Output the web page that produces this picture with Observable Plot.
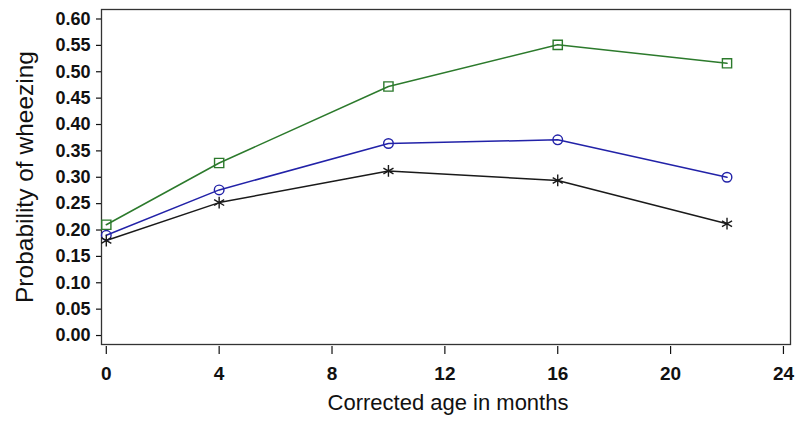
<!DOCTYPE html>
<html>
<head>
<meta charset="utf-8">
<script src="https://cdn.jsdelivr.net/npm/d3@7"></script>
<script src="https://cdn.jsdelivr.net/npm/@observablehq/plot@0.6"></script>
<style>
  html, body { margin: 0; padding: 0; background: #fff; }
</style>
</head>
<body>
<div id="chart"></div>
<script>
// Data
const months = [0, 4, 10, 16, 22];
const seriesSquare = [0.210, 0.327, 0.472, 0.551, 0.516];
const seriesCircle = [0.190, 0.276, 0.364, 0.371, 0.300];
const seriesStar   = [0.180, 0.252, 0.312, 0.294, 0.212];
const xTicks = [0, 4, 8, 12, 16, 20, 24];
const yTicks = [0, 0.05, 0.10, 0.15, 0.20, 0.25, 0.30, 0.35, 0.40, 0.45, 0.50, 0.55, 0.60];
const xLabel = "Corrected age in months";
const yLabel = "Probability of wheezing";

const toRows = (vals) => months.map((m, i) => ({month: m, p: vals[i]}));
const sq = toRows(seriesSquare);
const ci = toRows(seriesCircle);
const st = toRows(seriesStar);

const GREEN = "#2c7a2c";
const BLUE = "#2222a8";
const BLACK = "#1a1a1a";

const chart = Plot.plot({
  width: 800,
  height: 426,
  marginLeft: 101,
  marginRight: 10,
  marginTop: 9,
  marginBottom: 82,
  style: {fontFamily: "'Liberation Sans', Arial, Helvetica, sans-serif", background: "#fff", color: "#111"},
  x: {domain: [-0.17, 24.25]},
  y: {domain: [-0.017, 0.618]},
  marks: [
    Plot.frame({stroke: "#333", strokeWidth: 1.3}),
    Plot.axisY({ticks: yTicks, tickSize: 5, tickPadding: 6, tickFormat: d3.format(".2f"),
      label: null, fontSize: 18, fontWeight: "bold", strokeWidth: 1.2}),
    Plot.axisX({ticks: xTicks, tickSize: 8, dy: 2, tickPadding: 12, tickFormat: d3.format("d"),
      label: null, fontSize: 19, fontWeight: "bold", strokeWidth: 1.2}),
    Plot.text([xLabel], {text: d => d, frameAnchor: "bottom", lineAnchor: "top", textAnchor: "middle", dy: 50, dx: 2, fontSize: 22, fill: "#111"}),
    Plot.text([yLabel], {text: d => d, frameAnchor: "left", rotate: -90, lineAnchor: "bottom", textAnchor: "middle", dx: -69, fontSize: 24.5, fill: "#111"}),
    Plot.line(sq, {x: "month", y: "p", stroke: GREEN, strokeWidth: 1.5}),
    Plot.line(ci, {x: "month", y: "p", stroke: BLUE, strokeWidth: 1.5}),
    Plot.line(st, {x: "month", y: "p", stroke: BLACK, strokeWidth: 1.5}),
    Plot.dot(sq, {x: "month", y: "p", symbol: "square", r: 5.2, stroke: GREEN, strokeWidth: 1.4, fill: "none"}),
    Plot.dot(ci, {x: "month", y: "p", symbol: "circle", r: 4.8, stroke: BLUE, strokeWidth: 1.4, fill: "none"}),
    Plot.dot(st, {x: "month", y: "p", symbol: "asterisk", r: 5.5, stroke: BLACK, strokeWidth: 1.4, fill: "none"})
  ]
});
document.getElementById("chart").appendChild(chart);
</script>
</body>
</html>
